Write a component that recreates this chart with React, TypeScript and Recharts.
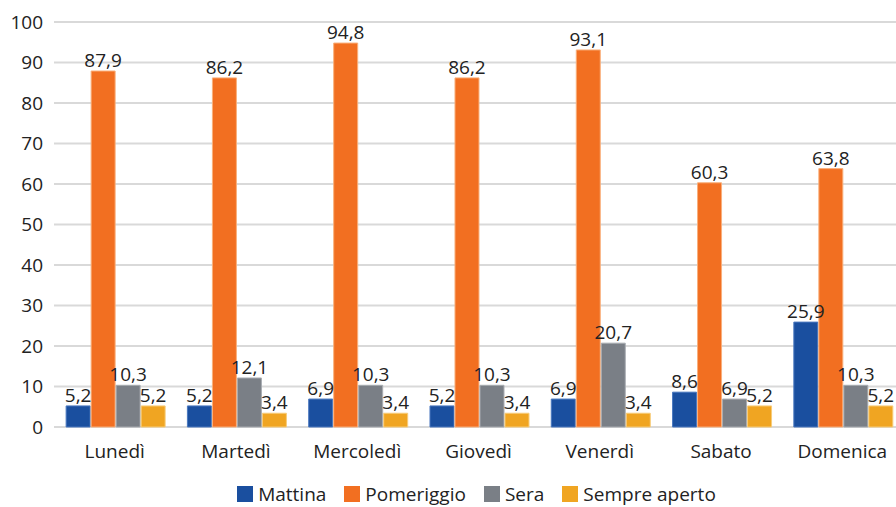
import { BarChart, Bar, XAxis, YAxis, CartesianGrid, LabelList, Legend } from 'recharts'

// Fasce orarie di apertura per giorno della settimana (%)
const giorni = ['Lunedì', 'Martedì', 'Mercoledì', 'Giovedì', 'Venerdì', 'Sabato', 'Domenica']
const mattina = [5.2, 5.2, 6.9, 5.2, 6.9, 8.6, 25.9]
const pomeriggio = [87.9, 86.2, 94.8, 86.2, 93.1, 60.3, 63.8]
const sera = [10.3, 12.1, 10.3, 10.3, 20.7, 6.9, 10.3]
const sempreAperto = [5.2, 3.4, 3.4, 3.4, 3.4, 5.2, 5.2]
const yTicks = [0, 10, 20, 30, 40, 50, 60, 70, 80, 90, 100]

const serie = [
  { key: 'mattina', name: 'Mattina', fill: '#1a4f9f', stroke: '#4a78bf' },
  { key: 'pomeriggio', name: 'Pomeriggio', fill: '#f26f21', stroke: '#f9b07c' },
  { key: 'sera', name: 'Sera', fill: '#7a7f86', stroke: '#a8acb1' },
  { key: 'sempre', name: 'Sempre aperto', fill: '#f0a522', stroke: '#f7cc7a' },
]

const data = giorni.map((g, i) => ({
  giorno: g,
  mattina: mattina[i],
  pomeriggio: pomeriggio[i],
  sera: sera[i],
  sempre: sempreAperto[i],
}))

const FONT = '"Open Sans", sans-serif'
const SIZE = 19
const fmt = (v: any) => String(v).replace('.', ',')

function Legenda() {
  return (
    <div style={{ display: 'flex', justifyContent: 'center', alignItems: 'center', fontFamily: FONT, fontSize: SIZE, color: '#222', lineHeight: '22px', paddingLeft: 50 }}>
      {serie.map((s, i) => (
        <div key={s.key} style={{ display: 'flex', alignItems: 'center', marginRight: i < serie.length - 1 ? 18 : 0 }}>
          <span style={{ width: 16, height: 16, background: s.fill, display: 'inline-block', marginRight: 5 }} />
          <span>{s.name}</span>
        </div>
      ))}
    </div>
  )
}

export default function App() {
  return (
    <div style={{ position: 'absolute', left: 0, top: 0, width: 896, height: 507, overflow: 'hidden', background: '#fff' }}>
      <BarChart
        width={910}
        height={507}
        data={data}
        margin={{ top: 22, right: 7, left: 0, bottom: 0 }}
        barCategoryGap="10%"
        barGap={1}
      >
        <CartesianGrid vertical={false} stroke="#d9d9d9" strokeWidth={2} />
        <XAxis
          dataKey="giorno"
          axisLine={false}
          tickLine={false}
          height={54}
          tick={{ fontFamily: FONT, fontSize: SIZE, fill: '#222' }}
          tickMargin={12}
        />
        <YAxis
          domain={[0, 100]}
          ticks={yTicks}
          width={54}
          axisLine={false}
          tickLine={false}
          tick={{ fontFamily: FONT, fontSize: SIZE, fill: '#222' }}
          tickMargin={5}
        />
        <Legend verticalAlign="bottom" height={24} wrapperStyle={{ paddingTop: 2 }} content={() => <Legenda />} />
        {serie.map((s) => (
          <Bar key={s.key} dataKey={s.key} name={s.name} fill={s.fill} stroke={s.stroke} strokeWidth={1} isAnimationActive={false}>
            <LabelList dataKey={s.key} position="top" offset={4} formatter={fmt} style={{ fontFamily: FONT, fontSize: SIZE, fill: '#222' }} />
          </Bar>
        ))}
      </BarChart>
    </div>
  )
}
